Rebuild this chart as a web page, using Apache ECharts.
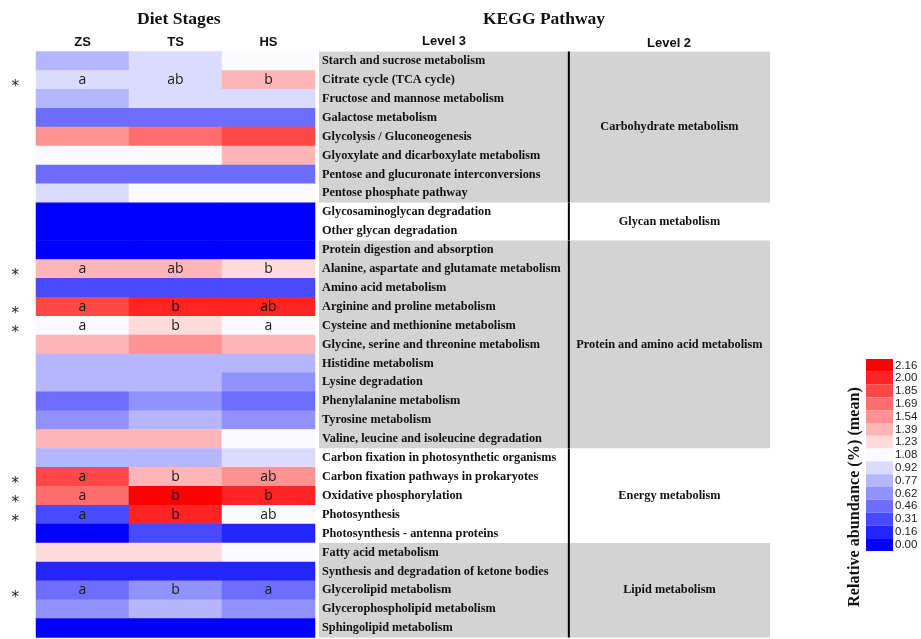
<!DOCTYPE html>
<html>
<head>
<meta charset="UTF-8">
<title>KEGG pathway heatmap</title>
<script src="https://cdn.jsdelivr.net/npm/echarts@6/dist/echarts.min.js"></script>
<style>
  html, body { margin: 0; padding: 0; background: #fff; }
  #main { width: 921px; height: 639px; }
</style>
</head>
<body>
<div id="main"></div>
<script type="text/javascript">
// diet stages (columns)
var stages = ['ZS', 'TS', 'HS'];

// KEGG level 3 pathways (rows, top to bottom)
var level3 = [
  'Starch and sucrose metabolism',
  'Citrate cycle (TCA cycle)',
  'Fructose and mannose metabolism',
  'Galactose metabolism',
  'Glycolysis / Gluconeogenesis',
  'Glyoxylate and dicarboxylate metabolism',
  'Pentose and glucuronate interconversions',
  'Pentose phosphate pathway',
  'Glycosaminoglycan degradation',
  'Other glycan degradation',
  'Protein digestion and absorption',
  'Alanine, aspartate and glutamate metabolism',
  'Amino acid metabolism',
  'Arginine and proline metabolism',
  'Cysteine and methionine metabolism',
  'Glycine, serine and threonine metabolism',
  'Histidine metabolism',
  'Lysine degradation',
  'Phenylalanine metabolism',
  'Tyrosine metabolism',
  'Valine, leucine and isoleucine degradation',
  'Carbon fixation in photosynthetic organisms',
  'Carbon fixation pathways in prokaryotes',
  'Oxidative phosphorylation',
  'Photosynthesis',
  'Photosynthesis - antenna proteins',
  'Fatty acid metabolism',
  'Synthesis and degradation of ketone bodies',
  'Glycerolipid metabolism',
  'Glycerophospholipid metabolism',
  'Sphingolipid metabolism'
];

// KEGG level 2 groups and how many level 3 rows each holds
var level2 = ['Carbohydrate metabolism', 'Glycan metabolism', 'Protein and amino acid metabolism', 'Energy metabolism', 'Lipid metabolism'];
var level2Size = [8, 2, 11, 5, 5];

// relative abundance (%) (mean)
var zsValues = [0.77, 0.92, 0.77, 0.46, 1.54, 1.08, 0.46, 0.92, 0.00, 0.00, 0.00, 1.39, 0.31, 1.85, 1.08, 1.39,
  0.77, 0.77, 0.46, 0.62, 1.39, 0.77, 1.85, 1.69, 0.31, 0.00, 1.23, 0.16, 0.46, 0.62, 0.00];
var tsValues = [0.92, 0.92, 0.92, 0.46, 1.69, 1.08, 0.46, 1.08, 0.00, 0.00, 0.00, 1.39, 0.31, 2.00, 1.23, 1.54,
  0.77, 0.77, 0.62, 0.77, 1.39, 0.77, 1.39, 2.16, 2.00, 0.31, 1.23, 0.16, 0.62, 0.77, 0.00];
var hsValues = [1.08, 1.39, 0.92, 0.46, 1.85, 1.39, 0.46, 1.08, 0.00, 0.00, 0.00, 1.23, 0.31, 2.00, 1.08, 1.39,
  0.77, 0.62, 0.46, 0.62, 1.08, 0.92, 1.54, 2.00, 1.08, 0.16, 1.08, 0.16, 0.46, 0.62, 0.00];

// significant rows (*) and their letters for ZS, TS, HS
var sigRows = [1, 11, 13, 14, 22, 23, 24, 28];
var sigLetters = [
  ['a', 'ab', 'b'],
  ['a', 'ab', 'b'],
  ['a', 'b', 'ab'],
  ['a', 'b', 'a'],
  ['a', 'b', 'ab'],
  ['a', 'b', 'b'],
  ['a', 'b', 'ab'],
  ['a', 'b', 'a']
];

// legend tick labels
var legendTicks = ['0.00', '0.16', '0.31', '0.46', '0.62', '0.77', '0.92', '1.08', '1.23', '1.39', '1.54', '1.69', '1.85', '2.00', '2.16'];

// blue -> white -> red colour steps
function stepColor(i, n) {
  var mid = (n - 1) / 2, c;
  if (i <= mid) {
    c = Math.round(255 * i / mid);
    if (i === mid) c = 250;
    return 'rgb(' + c + ',' + c + ',255)';
  }
  c = Math.round(255 * (n - 1 - i) / mid);
  return 'rgb(255,' + c + ',' + c + ')';
}

var pieces = [];
for (var i = 0; i < legendTicks.length; i++) {
  var v = parseFloat(legendTicks[i]);
  var lo = i === 0 ? -1 : (v + parseFloat(legendTicks[i - 1])) / 2;
  var hi = i === legendTicks.length - 1 ? 10 : (v + parseFloat(legendTicks[i + 1])) / 2;
  pieces.push({ gte: lo, lt: hi, label: legendTicks[i], color: stepColor(i, legendTicks.length) });
}

var columns = [zsValues, tsValues, hsValues];
var heatData = [];
for (var r = 0; r < level3.length; r++) {
  var k = sigRows.indexOf(r);
  for (var c = 0; c < stages.length; c++) {
    heatData.push({
      value: [c, r, columns[c][r]],
      label: { show: k >= 0, formatter: k >= 0 ? sigLetters[k][c] : '' }
    });
  }
}

var groupData = [];
var start = 0;
for (var g = 0; g < level2.length; g++) {
  groupData.push([0, start, start + level2Size[g] - 1, g]);
  start += level2Size[g];
}

var myChart = echarts.init(document.getElementById('main'));

var option = {
  backgroundColor: '#fff',
  animation: false,
  grid: [
    { left: 36, top: 51.5, width: 279, height: 586 },
    { left: 319, top: 51.5, width: 451, height: 586 }
  ],
  xAxis: [
    {
      type: 'category', gridIndex: 0, data: stages, position: 'top',
      axisLine: { show: false }, axisTick: { show: false }, splitLine: { show: false },
      axisLabel: { margin: 3, fontFamily: 'Liberation Sans', fontWeight: 'bold', fontSize: 13, color: '#111' }
    },
    { type: 'value', gridIndex: 1, min: 0, max: 1, show: false }
  ],
  yAxis: [
    {
      type: 'category', gridIndex: 0, data: level3, inverse: true,
      axisLine: { show: false }, axisTick: { show: false }, splitLine: { show: false },
      axisLabel: {
        interval: 0, margin: 17, fontFamily: 'DejaVu Sans', fontSize: 15, color: '#222',
        verticalAlign: 'top',
        formatter: function (val, idx) { return sigRows.indexOf(idx) >= 0 ? '*' : ''; }
      }
    },
    {
      type: 'category', gridIndex: 1, data: level3, inverse: true, z: 10,
      axisLine: { show: false }, axisTick: { show: false }, splitLine: { show: false },
      axisLabel: {
        interval: 0, inside: true, margin: 3, fontFamily: 'Liberation Serif', fontWeight: 'bold', fontSize: 12.3, color: '#111'
      }
    }
  ],
  visualMap: {
    type: 'piecewise', seriesIndex: 0, pieces: pieces, orient: 'vertical', align: 'left',
    left: 866, top: 359, padding: 0, itemWidth: 27, itemHeight: 12.8, itemGap: 0, itemSymbol: 'rect',
    textGap: 2, hoverLink: false, selectedMode: false,
    textStyle: { fontFamily: 'Liberation Sans', fontSize: 11.5, color: '#222' }
  },
  graphic: [
    { type: 'text', left: 137, top: 10, style: { text: 'Diet Stages', font: 'bold 17.6px "Liberation Serif"', fill: '#111' } },
    { type: 'text', left: 483, top: 10, style: { text: 'KEGG Pathway', font: 'bold 17.5px "Liberation Serif"', fill: '#111' } },
    { type: 'text', left: 422, top: 35, style: { text: 'Level 3', font: 'bold 13px "Liberation Sans"', fill: '#111' } },
    { type: 'text', left: 647, top: 37, style: { text: 'Level 2', font: 'bold 13px "Liberation Sans"', fill: '#111' } },
    {
      type: 'text', x: 855, y: 497, rotation: Math.PI / 2,
      style: { text: 'Relative abundance (%) (mean)', font: 'bold 16.2px "Liberation Serif"', fill: '#111', align: 'center', verticalAlign: 'middle' }
    }
  ],
  series: [
    {
      type: 'heatmap', xAxisIndex: 0, yAxisIndex: 0, data: heatData,
      label: { fontFamily: 'Open Sans', fontSize: 14, color: '#1a1a1a' },
      emphasis: { disabled: true }
    },
    {
      type: 'custom', xAxisIndex: 1, yAxisIndex: 1, data: groupData, z: 1, silent: true,
      renderItem: function (params, api) {
        var s = api.value(1), e = api.value(2), gi = api.value(3);
        var band = api.size([0, 1])[1];
        var p0 = api.coord([0, s]), p1 = api.coord([1, e]);
        var top = p0[1] - band / 2, bottom = p1[1] + band / 2;
        var xDiv = api.coord([0.554, s])[0];
        return {
          type: 'group',
          children: [
            { type: 'rect', shape: { x: p0[0], y: top, width: p1[0] - p0[0], height: bottom - top },
              style: { fill: gi % 2 === 0 ? '#d3d3d3' : '#ffffff' } },
            { type: 'line', shape: { x1: xDiv, y1: top, x2: xDiv, y2: bottom },
              style: { stroke: '#000', lineWidth: 2 } },
            { type: 'text', style: { text: level2[gi], x: (xDiv + p1[0]) / 2, y: (top + bottom) / 2,
              align: 'center', verticalAlign: 'middle', font: 'bold 12.3px "Liberation Serif"', fill: '#111' } }
          ]
        };
      }
    }
  ]
};

myChart.setOption(option);
</script>
</body>
</html>
